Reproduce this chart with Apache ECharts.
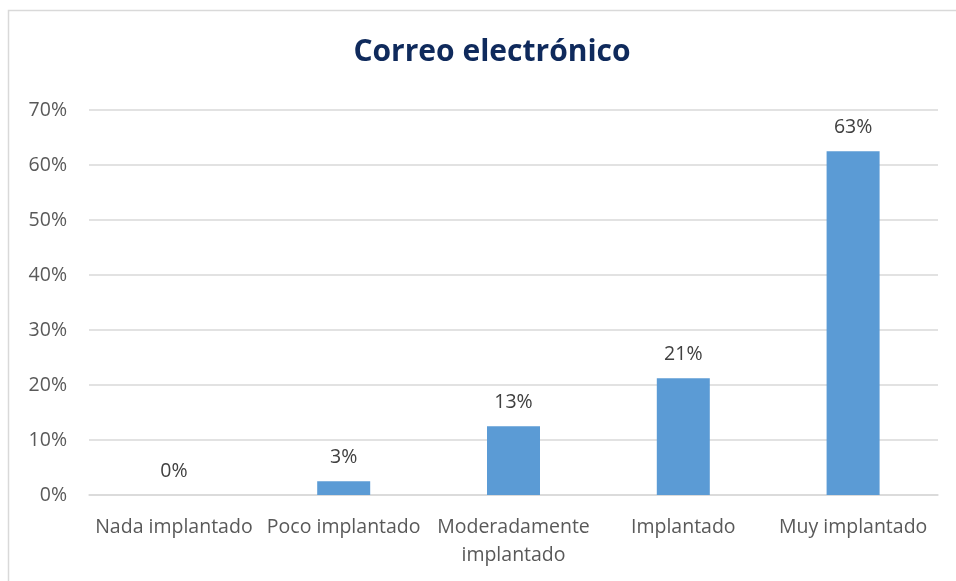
<!DOCTYPE html>
<html lang="es">
<head>
    <meta charset="UTF-8">
    <title>Correo electrónico</title>
    <script src="https://cdn.jsdelivr.net/npm/echarts@6/dist/echarts.min.js"></script>
    <style>
        body { margin: 0; background: #fff; }
    </style>
</head>
<body>
    <div id="main" style="width: 956px;height:581px;"></div>
    <script type="text/javascript">
        // datos del gráfico
        var categorias = ['Nada implantado', 'Poco implantado', 'Moderadamente\nimplantado', 'Implantado', 'Muy implantado'];
        var valores = [0, 2.5, 12.5, 21.25, 62.5];
        var titulo = 'Correo electrónico';

        var myChart = echarts.init(document.getElementById('main'));
        var fuente = '"Open Sans", sans-serif';

        myChart.setOption({
            animation: false,
            title: {
                text: titulo,
                left: 487,
                top: 32,
                textAlign: 'center',
                textStyle: { fontFamily: fuente, fontSize: 30, fontWeight: 'bold', color: '#0f2a5c' }
            },
            graphic: [{
                type: 'rect',
                shape: { x: 8.5, y: 10.5, width: 980, height: 600 },
                style: { fill: 'none', stroke: '#d9d9d9', lineWidth: 1.5 },
                silent: true
            }],
            grid: { left: 89, right: 18, top: 110, bottom: 86 },
            xAxis: {
                type: 'category',
                data: categorias,
                axisTick: { show: false },
                axisLine: { lineStyle: { color: '#d9d9d9', width: 1.5 } },
                axisLabel: { interval: 0, margin: 18, color: '#595959', fontFamily: fuente, fontSize: 19.5, lineHeight: 28 }
            },
            yAxis: {
                type: 'value',
                min: 0,
                max: 70,
                interval: 10,
                axisLine: { show: false },
                axisTick: { show: false },
                splitLine: { lineStyle: { color: '#d9d9d9', width: 1.5 } },
                axisLabel: {
                    margin: 22,
                    color: '#595959',
                    fontFamily: fuente,
                    fontSize: 19.5,
                    formatter: function (v) { return v + '%'; }
                }
            },
            series: [{
                type: 'bar',
                data: valores,
                barWidth: 53,
                itemStyle: { color: '#5b9bd5' },
                label: {
                    show: true,
                    position: 'top',
                    distance: 14,
                    color: '#404040',
                    fontFamily: fuente,
                    fontSize: 19.5,
                    formatter: function (p) { return Math.round(p.value) + '%'; }
                }
            }]
        });
    </script>
</body>
</html>
